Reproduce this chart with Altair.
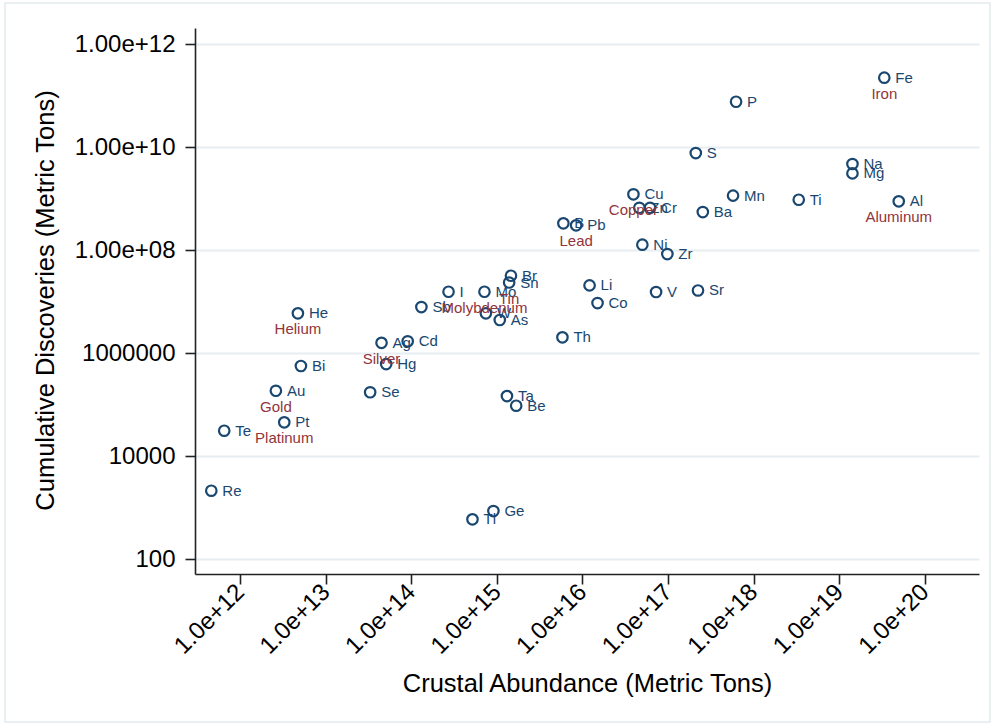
import altair as alt
import pandas as pd

# Element symbols with crustal abundance and cumulative discoveries (metric tons)
symbols = ["Fe", "P", "S", "Na", "Mg", "Cu", "Mn", "Ti", "Al", "Zn", "Cr", "Ba",
           "B", "Pb", "Ni", "Zr", "Br", "Sn", "Li", "V", "Sr", "I", "Mo", "Sb",
           "Co", "W", "As", "Th", "Ag", "Cd", "He", "Bi", "Hg", "Au", "Se", "Pt",
           "Te", "Ta", "Be", "Re", "Tl", "Ge"]
abundance = [3.37e19, 6.24e17, 2.11e17, 1.43e19, 1.43e19, 3.94e16, 5.75e17, 3.37e18,
             4.97e19, 4.62e16, 6.17e16, 2.55e17, 5.98e15, 8.43e15, 5.01e16, 9.82e16,
             1.46e15, 1.39e15, 1.21e16, 7.25e16, 2.24e17, 2.72e14, 7.15e14, 1.31e14,
             1.50e16, 7.43e14, 1.08e15, 5.83e15, 4.48e13, 9.06e13, 4.72e12, 5.12e12,
             5.08e13, 2.61e12, 3.30e13, 3.27e12, 6.50e11, 1.31e15, 1.68e15, 4.59e11,
             5.18e14, 9.10e14]
discoveries = [2.22e11, 7.58e10, 7.65e9, 4.68e9, 3.08e9, 1.21e9, 1.14e9, 9.48e8,
               8.83e8, 6.62e8, 6.62e8, 5.47e8, 3.30e8, 3.02e8, 1.27e8, 8.36e7,
               3.17e7, 2.34e7, 2.06e7, 1.53e7, 1.64e7, 1.55e7, 1.55e7, 7.82e6,
               9.35e6, 5.90e6, 4.38e6, 2.02e6, 1.58e6, 1.69e6, 5.90e6, 5.60e5,
               6.11e5, 1.85e5, 1.73e5, 4.51e4, 3.10e4, 1.46e5, 9.48e4, 2.12e3,
               590, 855]
full_names = {"Fe": "Iron", "Al": "Aluminum", "Cu": "Copper", "Pb": "Lead",
              "Sn": "Tin", "Mo": "Molybdenum", "He": "Helium", "Ag": "Silver",
              "Au": "Gold", "Pt": "Platinum"}

# Axis ticks (powers of ten) and their printed labels
x_exponents = [12, 13, 14, 15, 16, 17, 18, 19, 20]
x_labels = ["1.0e+12", "1.0e+13", "1.0e+14", "1.0e+15", "1.0e+16",
            "1.0e+17", "1.0e+18", "1.0e+19", "1.0e+20"]
y_exponents = [2, 4, 6, 8, 10, 12]
y_labels = ["100", "10000", "1000000", "1.00e+08", "1.00e+10", "1.00e+12"]

df = pd.DataFrame({
    "symbol": symbols,
    "abundance": abundance,
    "discoveries": discoveries,
    "name": [full_names.get(s, "") for s in symbols],
})

NAVY = "#1a476f"
CRANBERRY = "#90353b"
FONT = "Liberation Sans"


def label_expr(exps, labels):
    expr = "''"
    for e, lab in reversed(list(zip(exps, labels))):
        expr = f"round(log(datum.value)/LN10) == {e} ? '{lab}' : {expr}"
    return expr


x_enc = alt.X(
    "abundance:Q",
    scale=alt.Scale(type="log", domain=[2.96e11, 4.31e20], nice=False),
    axis=alt.Axis(
        values=[10.0 ** e for e in x_exponents],
        labelExpr=label_expr(x_exponents, x_labels),
        labelAngle=315, labelAlign="right", labelBaseline="middle",
        labelPadding=4, grid=False,
        title="Crustal Abundance (Metric Tons)",
        titleX=392, titleY=109, titleAlign="center", titleBaseline="middle",
    ),
)
y_enc = alt.Y(
    "discoveries:Q",
    scale=alt.Scale(type="log", domain=[51.2, 2.05e12], nice=False),
    axis=alt.Axis(
        values=[10.0 ** e for e in y_exponents],
        labelExpr=label_expr(y_exponents, y_labels),
        labelPadding=10, grid=True,
        title="Cumulative Discoveries (Metric Tons)",
        titleX=-150, titleY=272, titleAngle=270, titleAlign="center",
        titleBaseline="middle",
    ),
)

base = alt.Chart(df).encode(x=x_enc, y=y_enc)

points = base.mark_point(shape="circle", filled=False, size=110,
                         strokeWidth=2.2, color=NAVY, opacity=1)

symbol_text = base.mark_text(align="left", baseline="middle", dx=11,
                             fontSize=15, font=FONT, color=NAVY).encode(
    text="symbol:N")

name_text = base.transform_filter("datum.name != ''").mark_text(
    align="center", baseline="middle", dy=16, fontSize=15, font=FONT,
    color=CRANBERRY).encode(text="name:N")

# Thin outer border around the whole graph region
frame = alt.Chart(pd.DataFrame({"v": [0]})).mark_rect(
    fill=None, stroke="#e4ebee", strokeWidth=1.5).encode(
    x=alt.value(-190), x2=alt.value(795), y=alt.value(-25), y2=alt.value(694))

chart = alt.layer(frame, points, symbol_text, name_text).properties(
    width=784, height=546,
    autosize=alt.AutoSizeParams(type="none"),
    padding={"left": 195, "top": 28, "right": 16, "bottom": 153},
    background="white",
).configure_view(stroke=None).configure_axis(
    domainColor="#222222", domainWidth=1.6,
    tickColor="#222222", tickWidth=1.6, tickSize=10,
    labelFont=FONT, labelFontSize=24, labelColor="#000000",
    titleFont=FONT, titleFontSize=25.5, titleFontWeight="normal",
    titleColor="#000000",
    gridColor="#e6eef1", gridWidth=2,
)

chart.save("out.html", embed_options={"renderer": "svg", "actions": False})
